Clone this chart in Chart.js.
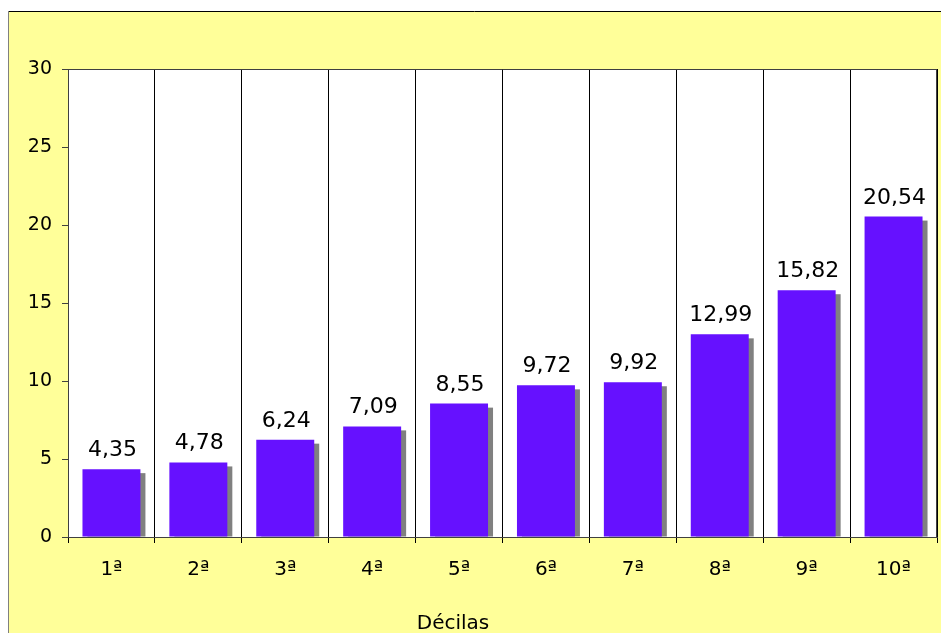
<!DOCTYPE html>
<html>
<head>
<meta charset="utf-8">
<script src="https://cdn.jsdelivr.net/npm/chart.js@4.4.1/dist/chart.umd.min.js"></script>
<style>
  html, body { margin: 0; padding: 0; background: #ffffff; }
  canvas { display: block; }
</style>
</head>
<body>
<canvas id="c" width="941" height="633"></canvas>
<script>
const categories = ['1ª', '2ª', '3ª', '4ª', '5ª', '6ª', '7ª', '8ª', '9ª', '10ª'];
const values = [4.35, 4.78, 6.24, 7.09, 8.55, 9.72, 9.92, 12.99, 15.82, 20.54];
const axisTitle = 'Décilas';

const FONT = 'DejaVu Sans';

const framePlugin = {
  id: 'frame',
  beforeDraw(chart) {
    const ctx = chart.ctx;
    ctx.save();
    ctx.fillStyle = '#ffffff';
    ctx.fillRect(0, 0, chart.width, chart.height);
    ctx.fillStyle = '#FFFF99';
    ctx.fillRect(8, 11, chart.width - 8, chart.height - 11);
    ctx.fillStyle = '#ffffff';
    const a = chart.chartArea;
    ctx.fillRect(a.left, a.top, a.right - a.left, a.bottom - a.top);
    ctx.strokeStyle = '#000000';
    ctx.lineWidth = 1;
    ctx.beginPath();
    ctx.moveTo(8, 11.5);
    ctx.lineTo(chart.width, 11.5);
    ctx.stroke();
    ctx.strokeStyle = '#808080';
    ctx.beginPath();
    ctx.moveTo(8.5, 11);
    ctx.lineTo(8.5, chart.height);
    ctx.stroke();
    ctx.restore();
  },
  beforeDatasetsDraw(chart) {
    const ctx = chart.ctx;
    const a = chart.chartArea;
    const meta = chart.getDatasetMeta(0);
    ctx.save();
    ctx.beginPath();
    ctx.rect(a.left, a.top, a.right - a.left, a.bottom - a.top);
    ctx.clip();
    ctx.fillStyle = '#808080';
    meta.data.forEach(bar => {
      const w = bar.width;
      const left = bar.x - w / 2 + 5;
      const top = bar.y + 4;
      ctx.fillRect(left, top, w, bar.base - top);
    });
    ctx.restore();
  },
  afterDatasetsDraw(chart) {
    const ctx = chart.ctx;
    const meta = chart.getDatasetMeta(0);
    ctx.save();
    ctx.fillStyle = '#000000';
    ctx.font = '22px "' + FONT + '"';
    ctx.textAlign = 'center';
    ctx.textBaseline = 'alphabetic';
    meta.data.forEach((bar, i) => {
      const txt = values[i].toFixed(2).replace('.', ',');
      ctx.fillText(txt, bar.x + 1, bar.y - 13);
    });
    ctx.restore();
  },
  afterDraw(chart) {
    const ctx = chart.ctx;
    const a = chart.chartArea;
    ctx.save();
    ctx.strokeStyle = '#404040';
    ctx.lineWidth = 1;
    ctx.beginPath();
    ctx.moveTo(a.left, a.top + 0.5);
    ctx.lineTo(a.right, a.top + 0.5);
    ctx.moveTo(a.right - 0.5, a.top);
    ctx.lineTo(a.right - 0.5, a.bottom);
    ctx.stroke();
    // axis title (Excel centres it on the full chart frame, not the plot)
    ctx.fillStyle = '#000000';
    ctx.font = '20px "' + FONT + '"';
    ctx.textAlign = 'center';
    ctx.textBaseline = 'alphabetic';
    ctx.fillText(axisTitle, 453, 629);
    ctx.restore();
  }
};

new Chart(document.getElementById('c'), {
  type: 'bar',
  data: {
    labels: categories,
    datasets: [{
      data: values,
      backgroundColor: '#6611FF',
      borderWidth: 0,
      barPercentage: 0.667,
      categoryPercentage: 1.0,
      clip: 0
    }]
  },
  options: {
    responsive: false,
    animation: false,
    devicePixelRatio: 1,
    layout: { padding: { top: 69, right: 4, left: 0, bottom: 0 } },
    plugins: {
      legend: { display: false },
      tooltip: { enabled: false },
      title: { display: false }
    },
    scales: {
      y: {
        min: 0,
        max: 30,
        ticks: {
          stepSize: 5,
          color: '#000000',
          padding: 10,
          font: { family: FONT, size: 19 }
        },
        grid: { drawOnChartArea: false, tickLength: 6, color: '#404040' },
        border: { color: '#404040' },
        afterFit(s) { s.width = 68; }
      },
      x: {
        ticks: {
          color: '#000000',
          padding: 15,
          font: { family: FONT, size: 20 }
        },
        grid: { offset: true, color: '#000000', tickLength: 6 },
        border: { color: '#404040' },
        title: { display: false },
        afterFit(s) { s.height = 96; }
      }
    }
  },
  plugins: [framePlugin]
});
</script>
</body>
</html>
